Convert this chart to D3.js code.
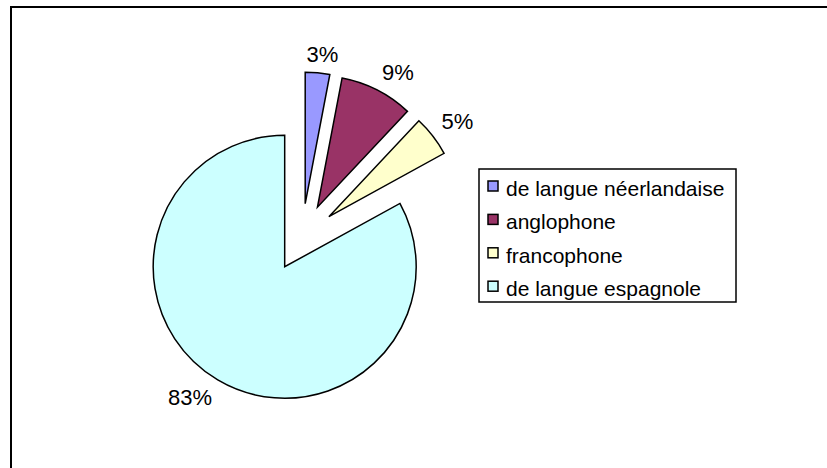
<!DOCTYPE html>
<html lang="fr">
  <head>
    <meta charset="UTF-8" />
    <title>Répartition linguistique</title>
    <style>
      body {
        margin: 0;
        background: #fff;
      }
      svg {
        display: block;
        font-family: 'Liberation Sans', Arial, sans-serif;
      }
    </style>
  </head>
  <body>
    <svg width="827" height="468"></svg>
    <script src="https://cdn.jsdelivr.net/npm/d3@7"></script>
    <script>
      const categories = [
        'de langue néerlandaise',
        'anglophone',
        'francophone',
        'de langue espagnole',
      ];
      const shares = [3, 9, 5, 83];
      const colors = ['#9999FF', '#993366', '#FFFFCC', '#CCFFFF'];

      const svg = d3.select('svg'),
        width = +svg.attr('width'),
        height = +svg.attr('height');

      // chart frame (runs off the right and bottom of the picture)
      svg
        .append('rect')
        .attr('x', 11)
        .attr('y', 7)
        .attr('width', width + 40)
        .attr('height', height + 40)
        .attr('fill', 'none')
        .attr('stroke', '#000')
        .attr('stroke-width', 2);

      const radius = 131.5,
        explode = 34,
        labelGap = 11,
        cx = 302,
        cy = 237.5;

      const pie = d3.pie().sort(null).value((d) => d);
      const arcs = pie(shares);
      const arc = d3.arc().innerRadius(0).outerRadius(radius);

      const mid = (d) => (d.startAngle + d.endAngle) / 2;
      const clamp = (t) => Math.max(-1, Math.min(1, t * 2.5));

      const g = svg.append('g').attr('transform', `translate(${cx},${cy})`);

      const slice = g
        .selectAll('g.slice')
        .data(arcs)
        .enter()
        .append('g')
        .attr('class', 'slice')
        .attr('transform', (d) => {
          const a = mid(d);
          return `translate(${Math.sin(a) * explode},${-Math.cos(a) * explode})`;
        });

      slice
        .append('path')
        .attr('d', arc)
        .attr('fill', (d, i) => colors[i])
        .attr('stroke', '#000')
        .attr('stroke-width', 1.5)
        .attr('stroke-linejoin', 'miter')
        .attr('stroke-miterlimit', 6);

      // percentage labels, outside end
      const total = d3.sum(shares);
      slice
        .append('text')
        .attr('font-size', 22)
        .attr('text-anchor', 'middle')
        .text((d) => Math.round((d.value / total) * 100) + '%')
        .each(function (d) {
          const a = mid(d);
          const w = this.getComputedTextLength();
          const h = 16;
          const r = radius + labelGap;
          const x = Math.sin(a) * r + (w / 2) * clamp(Math.sin(a));
          const y = -Math.cos(a) * r - (h / 2) * clamp(Math.cos(a));
          d3.select(this)
            .attr('x', x)
            .attr('y', y + h / 2);
        });

      // legend
      const legend = svg.append('g').attr('transform', 'translate(479,169)');
      legend
        .append('rect')
        .attr('width', 257)
        .attr('height', 133)
        .attr('fill', '#fff')
        .attr('stroke', '#000')
        .attr('stroke-width', 1.5);

      const row = legend
        .selectAll('g.row')
        .data(categories)
        .enter()
        .append('g')
        .attr('class', 'row')
        .attr('transform', (d, i) => `translate(0,${27 + i * 33.4})`);

      row
        .append('rect')
        .attr('x', 9)
        .attr('y', -15)
        .attr('width', 10)
        .attr('height', 10)
        .attr('fill', (d, i) => colors[i])
        .attr('stroke', '#000')
        .attr('stroke-width', 1.5);

      row
        .append('text')
        .attr('x', 27)
        .attr('font-size', 21)
        .text((d) => d);
    </script>
  </body>
</html>
